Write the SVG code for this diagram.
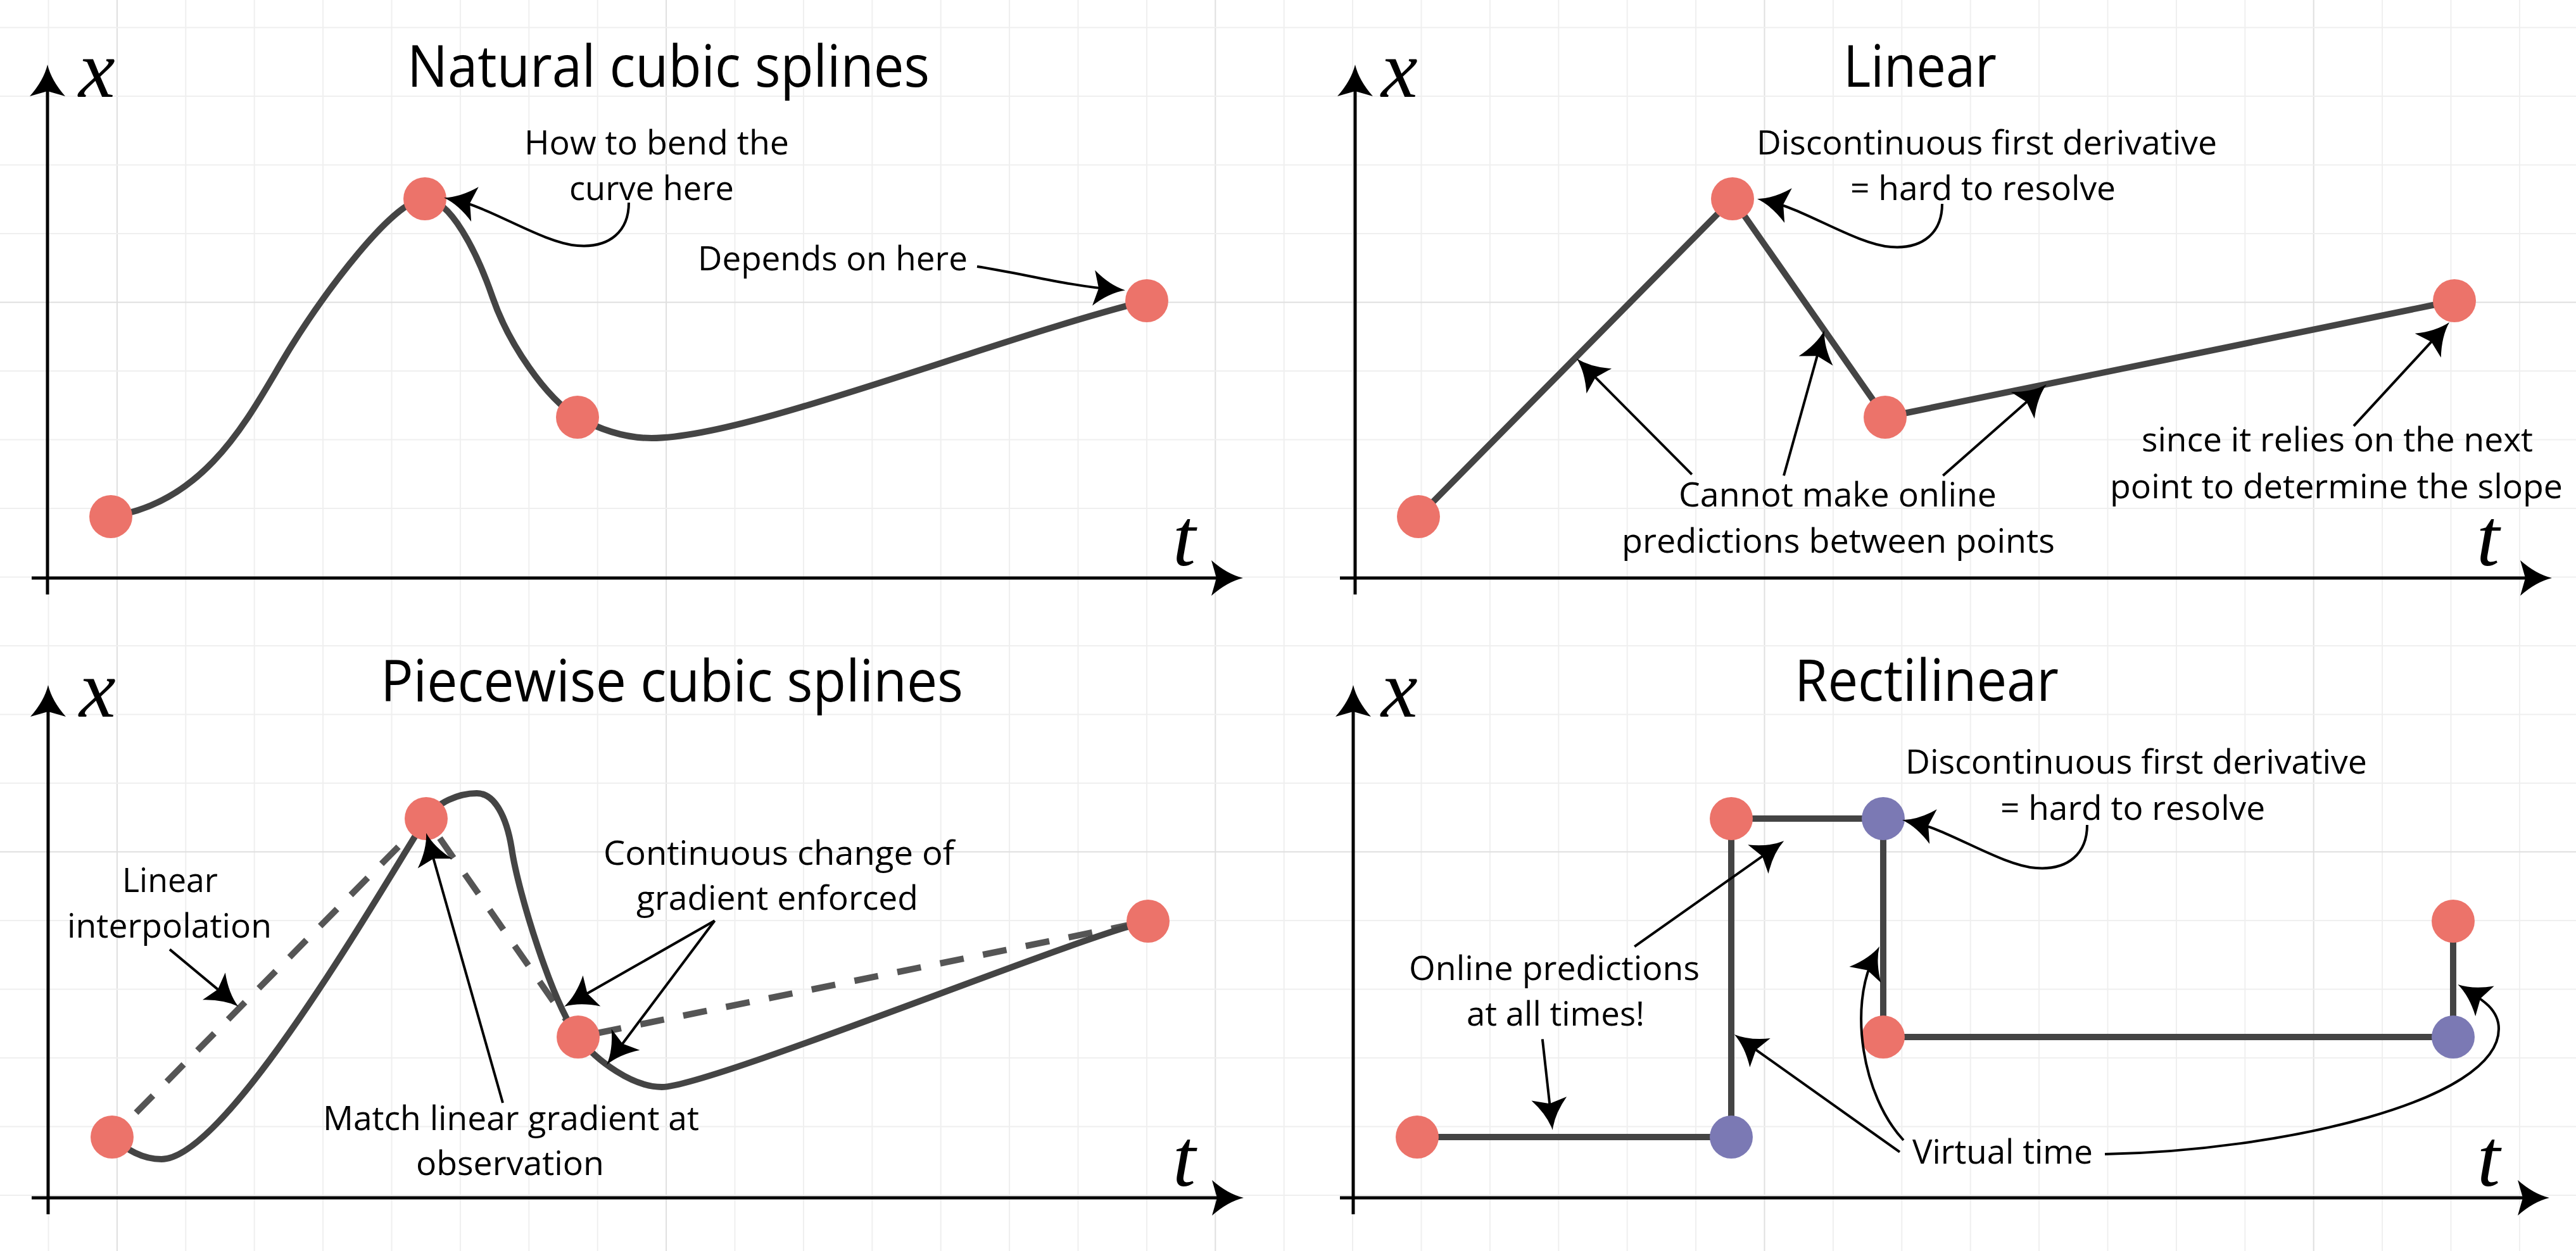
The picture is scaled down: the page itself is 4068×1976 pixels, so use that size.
<svg xmlns="http://www.w3.org/2000/svg" width="4068" height="1976" viewBox="0 0 4068 1976">
<style>
.grid line{stroke:#efefef;stroke-width:2}
.grid line.maj{stroke:#dfdfdf}
.axis{stroke:#000;stroke-width:5;fill:none;marker-end:url(#ah)}
.ann{stroke:#000;stroke-width:4;fill:none;marker-end:url(#ah)}
.curve{stroke:#444;stroke-width:10;fill:none;stroke-linejoin:round}
.dash{stroke:#555;stroke-width:10;fill:none;stroke-dasharray:38 31;stroke-dashoffset:15}
.red{fill:#EC736A}
.blue{fill:#7B79B4}
text{font-family:"Open Sans","Liberation Sans",sans-serif;fill:#000}
.title{font-size:92px}
.lbl{font-size:53px}
.var{font-family:"Liberation Serif","DejaVu Serif",serif;font-style:italic;font-size:130px}
</style>
<defs>
<marker id="ah" markerUnits="userSpaceOnUse" orient="auto" overflow="visible" markerWidth="1" markerHeight="1" refX="0" refY="0">
<path d="M20,0 Q-5,-6 -30,-28 L-22,0 L-30,28 Q-5,6 20,0 Z" fill="#000"/>
</marker>
</defs>
<rect width="4068" height="1976" fill="#fff"/>
<g id="grid" class="grid">
<line x1="76.5" y1="0" x2="76.5" y2="1976"/>
<line class="maj" x1="184.9" y1="0" x2="184.9" y2="1976"/>
<line x1="293.3" y1="0" x2="293.3" y2="1976"/>
<line x1="401.7" y1="0" x2="401.7" y2="1976"/>
<line x1="510.1" y1="0" x2="510.1" y2="1976"/>
<line x1="618.5" y1="0" x2="618.5" y2="1976"/>
<line x1="726.9" y1="0" x2="726.9" y2="1976"/>
<line x1="835.3" y1="0" x2="835.3" y2="1976"/>
<line x1="943.7" y1="0" x2="943.7" y2="1976"/>
<line class="maj" x1="1052.1" y1="0" x2="1052.1" y2="1976"/>
<line x1="1160.5" y1="0" x2="1160.5" y2="1976"/>
<line x1="1268.9" y1="0" x2="1268.9" y2="1976"/>
<line x1="1377.3" y1="0" x2="1377.3" y2="1976"/>
<line x1="1485.7" y1="0" x2="1485.7" y2="1976"/>
<line x1="1594.1" y1="0" x2="1594.1" y2="1976"/>
<line x1="1702.5" y1="0" x2="1702.5" y2="1976"/>
<line x1="1810.9" y1="0" x2="1810.9" y2="1976"/>
<line class="maj" x1="1919.3" y1="0" x2="1919.3" y2="1976"/>
<line x1="2027.7" y1="0" x2="2027.7" y2="1976"/>
<line x1="2136.1" y1="0" x2="2136.1" y2="1976"/>
<line x1="2244.5" y1="0" x2="2244.5" y2="1976"/>
<line x1="2352.9" y1="0" x2="2352.9" y2="1976"/>
<line x1="2461.3" y1="0" x2="2461.3" y2="1976"/>
<line x1="2569.7" y1="0" x2="2569.7" y2="1976"/>
<line x1="2678.1" y1="0" x2="2678.1" y2="1976"/>
<line class="maj" x1="2786.5" y1="0" x2="2786.5" y2="1976"/>
<line x1="2894.9" y1="0" x2="2894.9" y2="1976"/>
<line x1="3003.3" y1="0" x2="3003.3" y2="1976"/>
<line x1="3111.7" y1="0" x2="3111.7" y2="1976"/>
<line x1="3220.1" y1="0" x2="3220.1" y2="1976"/>
<line x1="3328.5" y1="0" x2="3328.5" y2="1976"/>
<line x1="3436.9" y1="0" x2="3436.9" y2="1976"/>
<line x1="3545.3" y1="0" x2="3545.3" y2="1976"/>
<line class="maj" x1="3653.7" y1="0" x2="3653.7" y2="1976"/>
<line x1="3762.1" y1="0" x2="3762.1" y2="1976"/>
<line x1="3870.5" y1="0" x2="3870.5" y2="1976"/>
<line x1="3978.9" y1="0" x2="3978.9" y2="1976"/>
<line x1="0" y1="43.4" x2="4068" y2="43.4"/>
<line x1="0" y1="151.9" x2="4068" y2="151.9"/>
<line x1="0" y1="260.4" x2="4068" y2="260.4"/>
<line x1="0" y1="368.9" x2="4068" y2="368.9"/>
<line class="maj" x1="0" y1="477.4" x2="4068" y2="477.4"/>
<line x1="0" y1="585.9" x2="4068" y2="585.9"/>
<line x1="0" y1="694.4" x2="4068" y2="694.4"/>
<line x1="0" y1="802.9" x2="4068" y2="802.9"/>
<line x1="0" y1="911.4" x2="4068" y2="911.4"/>
<line x1="0" y1="1019.9" x2="4068" y2="1019.9"/>
<line x1="0" y1="1128.4" x2="4068" y2="1128.4"/>
<line x1="0" y1="1236.9" x2="4068" y2="1236.9"/>
<line class="maj" x1="0" y1="1345.4" x2="4068" y2="1345.4"/>
<line x1="0" y1="1453.9" x2="4068" y2="1453.9"/>
<line x1="0" y1="1562.4" x2="4068" y2="1562.4"/>
<line x1="0" y1="1670.9" x2="4068" y2="1670.9"/>
<line x1="0" y1="1779.4" x2="4068" y2="1779.4"/>
<line x1="0" y1="1887.9" x2="4068" y2="1887.9"/>
</g>

<g id="panel-natural">
<path class="axis" d="M75,939 V122"/>
<path class="axis" d="M50,913 H1943"/>
<text class="var" x="124" y="153">x</text>
<text class="var" x="1852" y="893">t</text>
<text class="title" x="643" y="137" textLength="825" lengthAdjust="spacingAndGlyphs">Natural cubic splines</text>
<path class="curve" d="M175,816 C335,792 400,643 460,547 C510,467 621,314 671,314 C711,314 753,397.5 778,470 C803,542.5 862,629 912,659 C952,681 989,692 1029,692 C1179,692 1561,537.5 1811,475"/>
<g id="n1-p1"><circle class="red" cx="175" cy="816" r="34"/></g>
<g id="n1-p2"><circle class="red" cx="671" cy="314" r="34"/></g>
<g id="n1-p3"><circle class="red" cx="912" cy="659" r="34"/></g>
<g id="n1-p4"><circle class="red" cx="1811" cy="475" r="34"/></g>
<text class="lbl" x="828" y="244" textLength="418" lengthAdjust="spacingAndGlyphs">How to bend the</text>
<text class="lbl" x="899" y="316" textLength="260" lengthAdjust="spacingAndGlyphs">curve here</text>
<text class="lbl" x="1102" y="427" textLength="426" lengthAdjust="spacingAndGlyphs">Depends on here</text>
</g>

<g id="panel-linear">
<path class="axis" d="M2140,939 V122"/>
<path class="axis" d="M2116,913 H4010"/>
<text class="var" x="2181" y="153">x</text>
<text class="var" x="3911" y="893">t</text>
<text class="title" x="2911" y="137" textLength="242" lengthAdjust="spacingAndGlyphs">Linear</text>
<path class="curve" d="M2240,816 L2736,314 L2977,659 L3876,475"/>
<g id="n2-p1"><circle class="red" cx="2240" cy="816" r="34"/></g>
<g id="n2-p2"><circle class="red" cx="2736" cy="314" r="34"/></g>
<g id="n2-p3"><circle class="red" cx="2977" cy="659" r="34"/></g>
<g id="n2-p4"><circle class="red" cx="3876" cy="475" r="34"/></g>
<text class="lbl" x="2774" y="244" textLength="727" lengthAdjust="spacingAndGlyphs">Discontinuous first derivative</text>
<text class="lbl" x="2922" y="316" textLength="419" lengthAdjust="spacingAndGlyphs">= hard to resolve</text>
<text class="lbl" x="2651" y="800" textLength="502" lengthAdjust="spacingAndGlyphs">Cannot make online</text>
<text class="lbl" x="2561" y="873" textLength="684" lengthAdjust="spacingAndGlyphs">predictions between points</text>
<text class="lbl" x="3382" y="713" textLength="618" lengthAdjust="spacingAndGlyphs">since it relies on the next</text>
<text class="lbl" x="3332" y="787" textLength="715" lengthAdjust="spacingAndGlyphs">point to determine the slope</text>
</g>

<g id="panel-piecewise">
<path class="axis" d="M76,1918 V1102"/>
<path class="axis" d="M50,1892 H1944"/>
<text class="var" x="125" y="1132">x</text>
<text class="var" x="1852" y="1873">t</text>
<text class="title" x="601" y="1108" textLength="920" lengthAdjust="spacingAndGlyphs">Piecewise cubic splines</text>
<path class="dash" d="M177,1796 L673,1293 L913,1638 L1813,1455"/>
<path class="curve" d="M177,1796 C200,1816 225,1831 255,1831 C360,1831 610,1390 673,1293 C690,1267 725,1253 753,1253 C781,1253 800,1290 808,1340 C818,1410 873,1586 913,1638 C943,1677 1000,1717 1045,1717 C1120,1717 1700,1480 1813,1455"/>
<g id="n3-p1"><circle class="red" cx="177" cy="1796" r="34"/></g>
<g id="n3-p2"><circle class="red" cx="673" cy="1293" r="34"/></g>
<g id="n3-p3"><circle class="red" cx="913" cy="1638" r="34"/></g>
<g id="n3-p4"><circle class="red" cx="1813" cy="1455" r="34"/></g>
<text class="lbl" x="193" y="1409" textLength="151" lengthAdjust="spacingAndGlyphs">Linear</text>
<text class="lbl" x="106" y="1481" textLength="323" lengthAdjust="spacingAndGlyphs">interpolation</text>
<text class="lbl" x="510" y="1785" textLength="594" lengthAdjust="spacingAndGlyphs">Match linear gradient at</text>
<text class="lbl" x="657" y="1856" textLength="297" lengthAdjust="spacingAndGlyphs">observation</text>
<text class="lbl" x="953" y="1366" textLength="554" lengthAdjust="spacingAndGlyphs">Continuous change of</text>
<text class="lbl" x="1005" y="1437" textLength="445" lengthAdjust="spacingAndGlyphs">gradient enforced</text>
</g>

<g id="panel-rectilinear">
<path class="axis" d="M2137,1918 V1102"/>
<path class="axis" d="M2116,1892 H4006"/>
<text class="var" x="2181" y="1132">x</text>
<text class="var" x="3912" y="1873">t</text>
<text class="title" x="2834" y="1107" textLength="417" lengthAdjust="spacingAndGlyphs">Rectilinear</text>
<path class="curve" d="M2238,1796 H2734 V1293 H2974 V1638 H3874 V1455"/>
<g id="n4-r1"><circle class="red" cx="2238" cy="1796" r="34"/></g>
<g id="n4-b1"><circle class="blue" cx="2734" cy="1796" r="34"/></g>
<g id="n4-r2"><circle class="red" cx="2734" cy="1293" r="34"/></g>
<g id="n4-b2"><circle class="blue" cx="2974" cy="1293" r="34"/></g>
<g id="n4-r3"><circle class="red" cx="2974" cy="1638" r="34"/></g>
<g id="n4-b3"><circle class="blue" cx="3874" cy="1638" r="34"/></g>
<g id="n4-r4"><circle class="red" cx="3874" cy="1455" r="34"/></g>
<text class="lbl" x="3009" y="1222" textLength="729" lengthAdjust="spacingAndGlyphs">Discontinuous first derivative</text>
<text class="lbl" x="3159" y="1295" textLength="418" lengthAdjust="spacingAndGlyphs">= hard to resolve</text>
<text class="lbl" x="2225" y="1548" textLength="459" lengthAdjust="spacingAndGlyphs">Online predictions</text>
<text class="lbl" x="2316" y="1620" textLength="281" lengthAdjust="spacingAndGlyphs">at all times!</text>
<text class="lbl" x="3020" y="1838" textLength="285" lengthAdjust="spacingAndGlyphs">Virtual time</text>
</g>

<g id="connectors">
<path class="ann" d="M993,320 C993,365 963,392 912,388 C858,384 775,328 720.6,316.5"/>
<path class="ann" d="M1543,421 C1610,431 1690,452 1757,457"/>
<path class="ann" transform="translate(2074,2)" d="M993,320 C993,365 963,392 912,388 C858,384 775,328 720.6,316.5"/>
<path class="ann" d="M2671.8,749.4 L2504.1,580.6"/>
<path class="ann" d="M2817,751.3 L2875.6,541"/>
<path class="ann" d="M3068.3,751.3 L3216.8,620.4"/>
<path class="ann" d="M3717,672.9 L3854.5,523.7"/>
<path class="ann" d="M268,1499.6 L360.9,1576.9"/>
<path class="ann" d="M794,1742 L678.5,1335"/>
<path class="ann" d="M1128.6,1454.3 L908.4,1580"/>
<path class="ann" d="M1128.6,1454.3 L970,1666"/>
<path class="ann" transform="translate(2303,983)" d="M993,320 C993,365 963,392 912,388 C858,384 775,328 720.6,316.5"/>
<path class="ann" d="M2581.2,1495.2 L2800.9,1339.9"/>
<path class="ann" d="M2435.8,1641.4 L2449.6,1765.1"/>
<path class="ann" d="M3000,1819.7 L2755.1,1645.5"/>
<path class="ann" d="M3006,1801 C2940,1730 2920,1590 2958.9,1512.8"/>
<path class="ann" d="M3324,1823 C3600,1818 3946,1740 3946,1625 C3946,1595 3919.6,1578.7 3898.4,1565.6"/>
</g>
</svg>
